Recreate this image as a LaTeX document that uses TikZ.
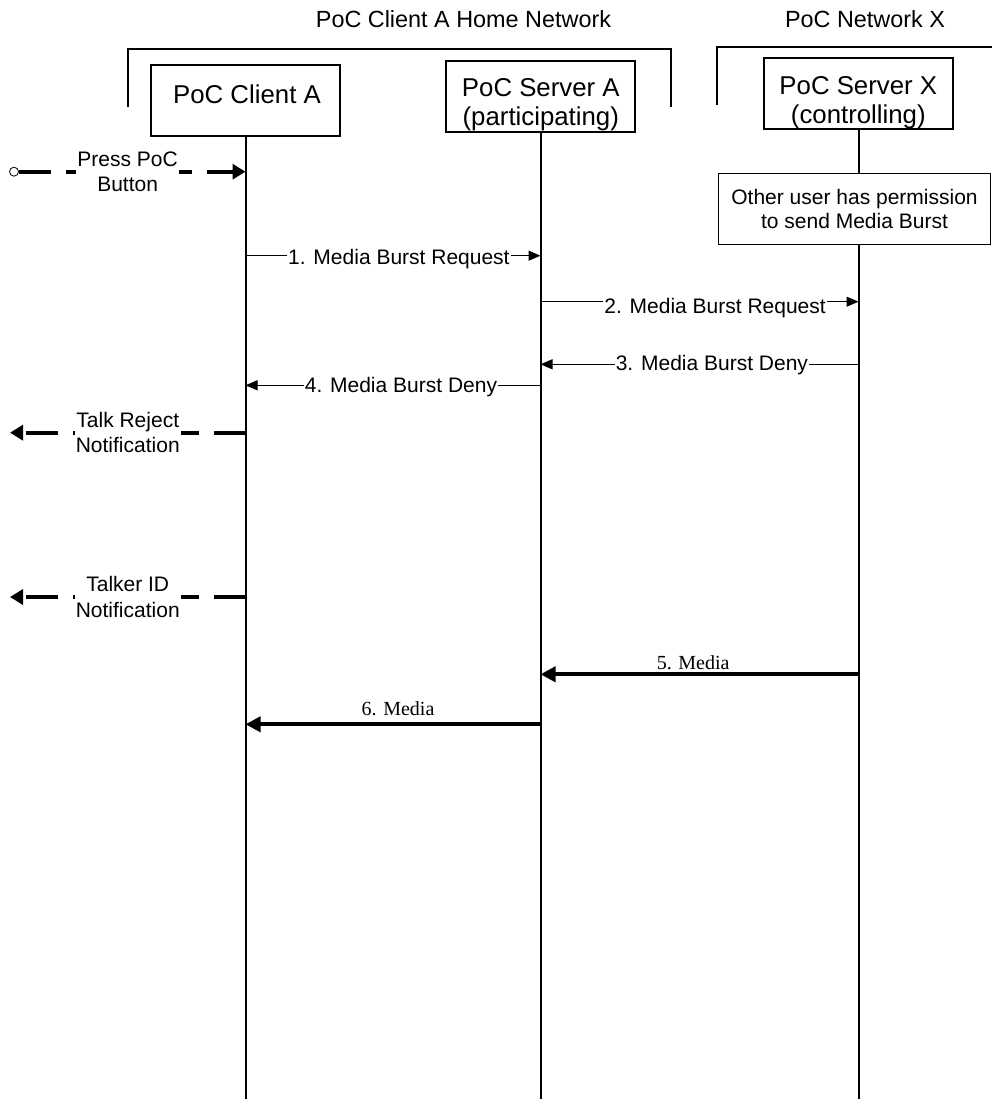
\documentclass[tikz,border=0pt]{standalone}
\usepackage{fontspec}
\setmainfont{Liberation Sans}
\newfontfamily\tmsfont{Liberation Serif}
\usetikzlibrary{arrows.meta}
\begin{document}
\begin{tikzpicture}[x=1pt,y=-1pt,
  box/.style={draw, line width=2pt, minimum width=189pt, minimum height=71pt, inner sep=0pt},
  boxtext/.style={font=\fontsize{25.8}{29}\selectfont, align=center, inner sep=0pt},
  hdr/.style={font=\fontsize{23.4}{27}\selectfont, inner sep=0pt, anchor=base},
  lifeline/.style={line width=2pt},
  bracket/.style={line width=2pt},
  msg/.style={line width=1pt, -{Triangle[length=12pt,width=10pt]}},
  lbl/.style={font=\fontsize{21}{25}\selectfont, fill=white, inner xsep=1pt, inner ysep=1pt, anchor=base},
  media/.style={line width=4pt, -{Triangle[length=15pt,width=15pt]}},
  mlbl/.style={font=\tmsfont\fontsize{20}{24}\selectfont, inner sep=0pt, anchor=base},
  ext/.style={line width=3.8pt, dash pattern=on 32pt off 15pt, -{Triangle[length=13pt,width=15pt]}},
  extlbl/.style={font=\fontsize{21}{25.5}\selectfont, fill=white, align=center, inner xsep=1pt, inner ysep=0pt},
  note/.style={draw, line width=1.2pt, minimum width=272pt, minimum height=71pt, align=center, font=\fontsize{21}{24}\selectfont, inner sep=0pt},
]
\useasboundingbox (0,0) rectangle (992,1099);

% headers and network brackets
\node[hdr] (homeHdr) at (463.5,28) {PoC Client A Home Network};
\node[hdr] (xHdr) at (865,28) {PoC Network X};
\draw[bracket] (127.7,107) -- (127.7,49) -- (670.7,49) -- (670.7,107);
\draw[bracket] (717.3,105) -- (717.3,46.7) -- (992,46.7);

% entity boxes
\node[box] (clientA) at (245.5,100.5) {};
\node[boxtext, anchor=base] (clientAtxt) at (247,103.3) {PoC Client A};
\node[box] (serverA) at (540.5,96.3) {};
\node[boxtext] (serverAtxt) at (540.8,104.5) {PoC Server A\\(participating)};
\node[box] (serverX) at (858.5,93.7) {};
\node[boxtext] (serverXtxt) at (858.3,102.5) {PoC Server X\\(controlling)};

% note
\node[note] (note) at (854.5,208.7) {Other user has permission\\to send Media Burst};

% lifelines
\coordinate (aBot) at (clientA |- 0,1099);
\coordinate (sBot) at (serverA |- 0,1099);
\coordinate (xBot) at (serverX |- 0,1099);
\draw[lifeline] (clientA.south) -- (aBot);
\draw[lifeline] (serverA.south) -- (sBot);
\draw[lifeline] (serverX.south) -- (serverX.south |- note.north);
\draw[lifeline] (serverX.south |- note.south) -- (xBot);

% press PoC button
\node[draw, circle, minimum size=9pt, inner sep=0pt, line width=0.8pt, fill=white] (press) at (14,171.7) {};
\draw[ext] (press.east) -- node[extlbl, pos=0.48] {Press PoC\\Button} (clientA |- 0,171.7);

% signalling
\draw[msg] (clientA |- 0,255.7) -- node[lbl, pos=0.52, yshift=-8.3pt] {1. Media Burst Request} (serverA |- 0,255.7);
\draw[msg] (serverA |- 0,301.7) -- node[lbl, pos=0.549, yshift=-11.6pt] {2. Media Burst Request} (serverX |- 0,301.7);
\draw[msg] (serverX |- 0,364.3) -- node[lbl, pos=0.461, yshift=-5.7pt] {3. Media Burst Deny} (serverA |- 0,364.3);
\draw[msg] (serverA |- 0,385.3) -- node[lbl, pos=0.473, yshift=-7pt] {4. Media Burst Deny} (clientA |- 0,385.3);

% notifications
\coordinate (rejEnd) at (10,432.7);
\draw[ext] (clientA |- 0,432.7) -- node[extlbl, pos=0.5] {Talk Reject\\Notification} (rejEnd);
\coordinate (tidEnd) at (10,597);
\draw[ext] (clientA |- 0,597) -- node[extlbl, pos=0.5] {Talker ID\\Notification} (tidEnd);

% media
\draw[media] (serverX |- 0,674.3) -- node[mlbl, pos=0.52, yshift=5.3pt] {5. Media} (serverA |- 0,674.3);
\draw[media] (serverA |- 0,724.3) -- node[mlbl, pos=0.483, yshift=8.6pt] {6. Media} (clientA |- 0,724.3);
\end{tikzpicture}
\end{document}
